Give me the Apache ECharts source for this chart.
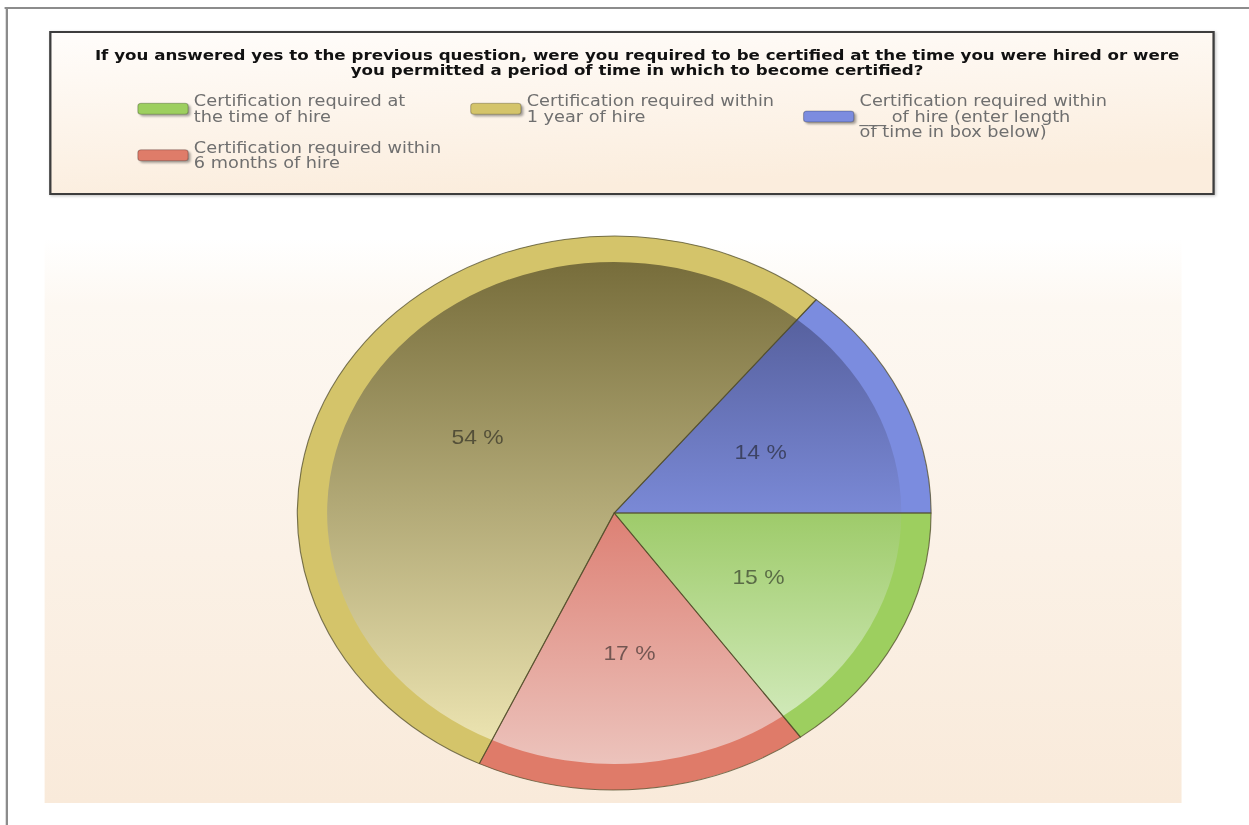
<!DOCTYPE html>
<html>
<head>
<meta charset="utf-8">
<script src="https://cdn.jsdelivr.net/npm/echarts@6/dist/echarts.min.js"></script>
<style>
  html, body { margin: 0; padding: 0; background: #ffffff; overflow: hidden; width: 1249px; height: 825px; }
  /* the survey export is drawn a little wider than tall, so the canvas is stretched sideways */
  #chart { width: 1092px; height: 825px; transform: scaleX(1.1438); transform-origin: 0 0; }
</style>
</head>
<body>
<div id="chart"></div>
<script>
// answer options, in the order the slices run clockwise from three o'clock
const categories = [
  'Certification required at\nthe time of hire',
  'Certification required within\n6 months of hire',
  'Certification required within\n1 year of hire',
  'Certification required within\n___ of hire (enter length\nof time in box below)'
];
// share of respondents, percent
const shares = [15, 17, 54, 14];
// legend columns, read left to right
const legendColumns = [
  [categories[0], categories[1]],
  [categories[2]],
  [categories[3]]
];
const titleLines = [
  'If you answered yes to the previous question, were you required to be certified at the time you were hired or were',
  'you permitted a period of time in which to become certified?'
];

// palette: rim colour and face gradient (top -> bottom) for each slice
const rimColors = ['#9dcf5f', '#df7b69', '#d4c46a', '#7b8cdf'];
const faceColors = [
  ['#9ecb6a', '#d0e9b8'],
  ['#dd8074', '#ecc3bc'],
  ['#776d3b', '#ebe3b0'],
  ['#57619f', '#7a89d6']
];

const chart = echarts.init(document.getElementById('chart'), null, { renderer: 'svg' });

const pieCenter = [537, 513];
const outerR = 277;
const faceR = 251;
const legendLefts = [120, 411, 702];

function faceGradient(i) {
  return new echarts.graphic.LinearGradient(0, 0, 0, 1, [
    { offset: 0, color: faceColors[i][0] },
    { offset: 1, color: faceColors[i][1] }
  ]);
}

const rimData = categories.map((name, i) => ({ name, value: shares[i], itemStyle: { color: rimColors[i] } }));
const faceData = categories.map((name, i) => ({ name, value: shares[i], itemStyle: { color: faceGradient(i) } }));
const edgeData = categories.map((name, i) => ({ name, value: shares[i] }));

const pieBase = {
  type: 'pie',
  center: pieCenter,
  startAngle: 0,
  clockwise: true,
  avoidLabelOverlap: false,
  silent: true,
  animation: false,
  emphasis: { disabled: true },
  labelLine: { show: false }
};

const legends = legendColumns.map((names, col) => ({
  data: names,
  orient: 'vertical',
  left: legendLefts[col],
  top: 93,
  padding: 0,
  itemGap: 15,
  itemWidth: 44,
  itemHeight: 11,
  icon: 'roundRect',
  selectedMode: false,
  itemStyle: {
    borderColor: 'rgba(0,0,0,0.25)',
    borderWidth: 1,
    shadowColor: 'rgba(0,0,0,0.35)',
    shadowBlur: 2,
    shadowOffsetX: 2,
    shadowOffsetY: 2
  },
  textStyle: {
    fontFamily: '"DejaVu Sans", sans-serif',
    fontSize: 15.5,
    lineHeight: 15.5,
    color: '#6f6f6f'
  }
}));

chart.setOption({
  backgroundColor: '#ffffff',
  title: {
    text: titleLines.join('\n'),
    left: 557,
    top: 47,
    padding: 0,
    textAlign: 'center',
    textStyle: {
      fontFamily: '"DejaVu Sans", sans-serif',
      fontWeight: 'bold',
      fontSize: 14.6,
      lineHeight: 15.5,
      color: '#111111'
    }
  },
  legend: legends,
  graphic: [
    { type: 'line', z: 0, silent: true, shape: { x1: 4, y1: 8, x2: 1092, y2: 8 }, style: { stroke: '#8c8c8c', lineWidth: 2 } },
    { type: 'line', z: 0, silent: true, shape: { x1: 6, y1: 8, x2: 6, y2: 825 }, style: { stroke: '#8c8c8c', lineWidth: 2 } },
    {
      type: 'rect', z: 0, silent: true,
      shape: { x: 39, y: 238, width: 994, height: 565 },
      style: {
        fill: new echarts.graphic.LinearGradient(0, 0, 0, 1, [
          { offset: 0, color: '#ffffff' },
          { offset: 0.12, color: '#fdf8f2' },
          { offset: 1, color: '#f9eada' }
        ])
      }
    },
    {
      type: 'rect', z: 0, silent: true,
      shape: { x: 44, y: 32, width: 1017, height: 162 },
      style: {
        fill: new echarts.graphic.LinearGradient(0, 0, 0.3, 1, [
          { offset: 0, color: '#fffdfb' },
          { offset: 1, color: '#fbeddd' }
        ]),
        stroke: '#3c3c3c',
        lineWidth: 2,
        shadowColor: 'rgba(0,0,0,0.25)',
        shadowBlur: 3,
        shadowOffsetX: 1,
        shadowOffsetY: 1
      }
    }
  ],
  series: [
    Object.assign({}, pieBase, {
      name: 'rim',
      z: 2,
      radius: outerR,
      label: { show: false },
      data: rimData
    }),
    Object.assign({}, pieBase, {
      name: 'face',
      z: 3,
      radius: faceR,
      label: { show: false },
      data: faceData
    }),
    Object.assign({}, pieBase, {
      name: 'edges',
      z: 4,
      radius: outerR,
      itemStyle: { color: 'rgba(0,0,0,0)', borderColor: 'rgba(80,76,42,0.75)', borderWidth: 1 },
      label: {
        show: true,
        position: 'inside',
        formatter: '{c} %',
        fontFamily: '"Liberation Sans", Arial, sans-serif',
        fontSize: 20,
        color: 'rgba(20,20,20,0.55)',
        textBorderWidth: 0
      },
      data: edgeData
    })
  ]
});
</script>
</body>
</html>
